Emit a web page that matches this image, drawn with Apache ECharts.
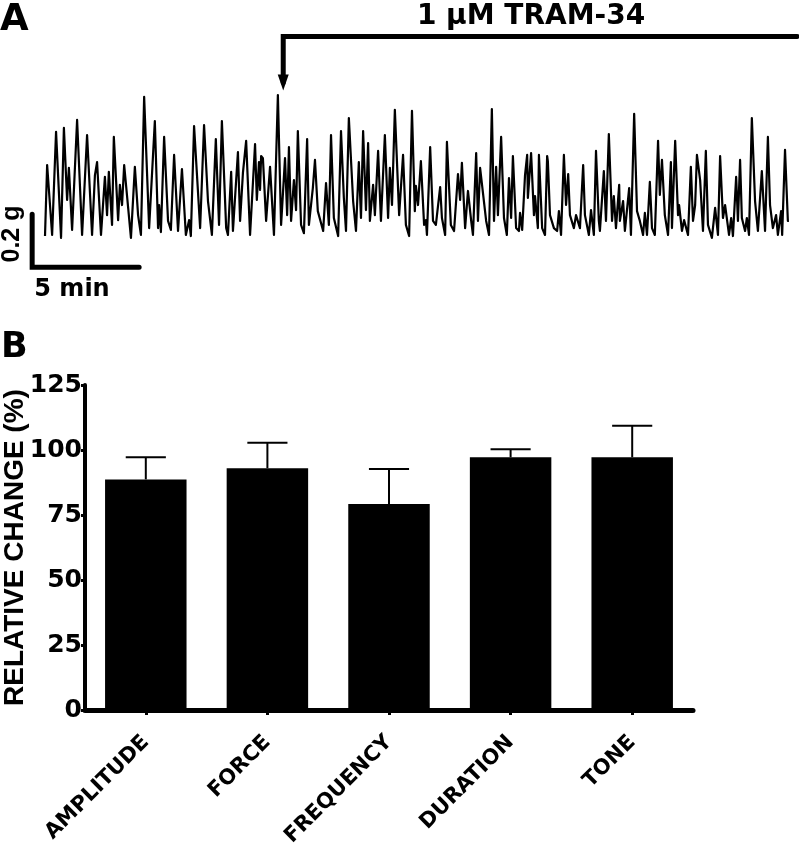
<!DOCTYPE html>
<html>
<head>
<meta charset="utf-8">
<script src="https://cdn.jsdelivr.net/npm/echarts/dist/echarts.min.js"></script>
<style>
  html, body { margin: 0; padding: 0; background: #fff; }
  #chart { width: 799px; height: 844px; }
</style>
</head>
<body>
<div id="chart"></div>
<script>
// ---------- Panel A: contraction trace (time in s, tension in mg) ----------
const traceTime = [0,6,20,31,45,53,62,67,76,90,104,118,132,140,146,157,168,174,179,188,193,205,210,216,222,241,252,261,269,278,292,308,317,320,325,334,345,353,362,373,384,395,404,409,418,435,446,457,468,479,488,496,508,513,522,527,541,547,555,564,575,589,594,600,603,606,611,620,631,642,653,662,673,679,684,690,698,704,709,718,726,735,740,751,757,765,780,788,796,802,810,822,830,838,844,852,864,872,880,886,892,900,906,911,920,925,934,942,953,962,967,973,981,993,1004,1012,1021,
1029,1037,1040,1046,1054,1063,1068,1071,1080,1088,1096,1108,1113,1122,1127,1138,1147,1158,1164,1169,1178,1186,1195,1200,1209,1214,1220,1225,1237,1245,1253,1259,1265,1270,1279,1287,1295,1301,1307,1312,1321,1329,1332,1338,1346,1352,1354,1363,1371,1374,1382,1385,1394,1402,1408,1410,1416,1427,1436,1441,1447,1455,1461,1467,1472,1483,1489,1500,1509,1514,1525,1531,1539,1545,1553,1556,1567,1573,1581,1590,1595,1601,1610,1612,1621,1626,1638,1643,1652,1660,1668,1677,1682,1688,1696,1702,1710,1719,1724,1730,1738,1747,1755,1758,1767,1775,1778,1786,1792,1803,1811,1817,1823,1828,1837,1845,1853,1859,1870,1879,1887,1893,1901,1907,1918,1924,1929,1938,1943,1949,1954,1963,1968,1974,1982,1991,1999,2010,2019,2027,2033,2041,2050,2055,2064,2067,2075,2083,2086];
const traceForce = [15,283,19,408,8,423,151,272,38,453,19,396,19,245,294,19,238,94,257,57,389,75,208,132,283,8,276,94,19,540,45,449,45,132,30,389,72,38,321,34,268,19,75,15,430,45,434,147,19,381,57,449,45,19,257,34,332,72,253,374,19,362,151,294,189,317,309,72,276,19,547,57,309,94,351,72,226,113,411,57,26,381,57,196,302,109,34,215,57,396,83,15,411,159,34,460,147,34,294,83,411,113,366,72,208,94,336,72,396,83,272,132,491,94,321,57,15,
487,109,204,132,298,57,75,19,351,72,57,200,83,19,370,57,34,249,151,291,45,185,72,19,328,72,272,268,72,19,494,72,276,94,389,83,19,234,83,317,45,34,102,38,245,321,159,328,94,166,45,321,45,19,317,298,94,45,34,109,19,321,132,249,94,45,94,45,283,94,19,113,19,336,72,34,260,72,400,72,166,45,208,72,147,34,196,19,476,109,72,19,102,19,219,45,19,374,170,302,94,19,294,45,374,94,132,34,75,19,276,72,132,321,226,34,336,57,8,121,19,317,83,132,19,83,15,238,72,302,83,34,83,19,460,147,34,260,34,389,132,45,94,19,109,19,340,72,72];

const drugLabel = '1 \u00B5M TRAM-34';
const drugTime = 668;        // s, time of addition
const drugEndTime = 2109;    // s
const scaleTime = 300;       // 5 min
const scaleForce = 200;      // 0.2 g in mg

// ---------- Panel B: bar chart ----------
const categories = ['AMPLITUDE', 'FORCE', 'FREQUENCY', 'DURATION', 'TONE'];
const meanValues = [88.7, 93.0, 79.2, 97.2, 97.2];
const semValues  = [8.5, 9.8, 13.5, 3.1, 12.1];
const yTicks = [0, 25, 50, 75, 100, 125];

// layout constants (positions, not data)
const FONT = '"DejaVu Sans", sans-serif';
const FONT2 = '"Liberation Sans", Arial, sans-serif';
const scaleOrigin = [-36, -103];
const drugLineLevel = 768;
const arrowTipLevel = 594;

const tracePairs = traceTime.map((t, i) => [t, traceForce[i]]);
const scaleBar = [
  [scaleOrigin[0], scaleOrigin[1] + scaleForce],
  [scaleOrigin[0], scaleOrigin[1]],
  [scaleOrigin[0] + scaleTime, scaleOrigin[1]]
];
const drugLine = [
  { value: [drugEndTime, drugLineLevel], symbol: 'none' },
  { value: [drugTime, drugLineLevel], symbol: 'none' },
  { value: [drugTime, arrowTipLevel], symbol: 'triangle', symbolSize: [11, 16], symbolRotate: 180 }
];
const errData = categories.map((c, i) => [i, meanValues[i], meanValues[i] + semValues[i]]);

const chart = echarts.init(document.getElementById('chart'), null, { renderer: 'canvas' });
chart.setOption({
  animation: false,
  backgroundColor: '#fff',
  grid: [
    { left: 28.95, width: 769.26, top: 28, height: 243.8, outerBoundsMode: 'none', containLabel: false },
    { left: 85, width: 608, top: 385, height: 325, outerBoundsMode: 'none', containLabel: false }
  ],
  xAxis: [
    { gridIndex: 0, type: 'value', min: -45, max: 2112, show: false },
    {
      gridIndex: 1, type: 'category', data: categories,
      axisLine: { show: true, lineStyle: { color: '#000', width: 5, cap: 'round' } },
      axisTick: { show: true, alignWithLabel: true, length: 5, lineStyle: { color: '#000', width: 3 } },
      axisLabel: { rotate: 45, color: '#000', fontFamily: FONT, fontWeight: 'bold', fontSize: 21, margin: 29, interval: 0 },
      splitLine: { show: false }
    }
  ],
  yAxis: [
    { gridIndex: 0, type: 'value', min: -120, max: 800, show: false },
    {
      gridIndex: 1, type: 'value', min: yTicks[0], max: yTicks[yTicks.length - 1], interval: 25,
      name: 'RELATIVE CHANGE (%)', nameLocation: 'middle', nameGap: 56, nameRotate: 90,
      nameMoveOverlap: false,
      nameTextStyle: { color: '#000', fontFamily: FONT2, fontWeight: 'bold', fontSize: 28 },
      axisLine: { show: true, lineStyle: { color: '#000', width: 4 } },
      axisTick: { show: true, length: 4, lineStyle: { color: '#000', width: 3 } },
      axisLabel: { color: '#000', fontFamily: FONT, fontWeight: 'bold', fontSize: 25, margin: 3 },
      splitLine: { show: false }
    }
  ],
  series: [
    {
      type: 'line', xAxisIndex: 0, yAxisIndex: 0, data: tracePairs,
      symbol: 'none', clip: false,
      lineStyle: { color: '#000', width: 2.2, join: 'round' }
    },
    {
      type: 'line', xAxisIndex: 0, yAxisIndex: 0, data: scaleBar,
      symbol: 'none', clip: false,
      lineStyle: { color: '#000', width: 5, cap: 'round', join: 'miter' }
    },
    {
      type: 'line', xAxisIndex: 0, yAxisIndex: 0, data: drugLine,
      clip: false, itemStyle: { color: '#000' },
      lineStyle: { color: '#000', width: 5, cap: 'round', join: 'miter' }
    },
    {
      type: 'bar', xAxisIndex: 1, yAxisIndex: 1, data: meanValues,
      barCategoryGap: '33%', itemStyle: { color: '#000' }
    },
    {
      type: 'custom', xAxisIndex: 1, yAxisIndex: 1, data: errData, z: 3,
      encode: { x: 0, y: 2 },
      renderItem: function (params, api) {
        const idx = api.value(0);
        const p0 = api.coord([idx, api.value(1)]);
        const p1 = api.coord([idx, api.value(2)]);
        const half = api.size([1, 0])[0] * 0.165;
        const st = { stroke: '#000', lineWidth: 2 };
        return {
          type: 'group',
          children: [
            { type: 'line', shape: { x1: p0[0], y1: p0[1], x2: p1[0], y2: p1[1] }, style: st },
            { type: 'line', shape: { x1: p1[0] - half, y1: p1[1], x2: p1[0] + half, y2: p1[1] }, style: st }
          ]
        };
      }
    }
  ],
  graphic: [
    { type: 'text', x: 0, y: 20, style: { text: 'A', fill: '#000', font: 'bold 37px ' + FONT, verticalAlign: 'middle', align: 'left' } },
    { type: 'text', x: 1, y: 348, style: { text: 'B', fill: '#000', font: 'bold 35px ' + FONT, verticalAlign: 'middle', align: 'left' } },
    { type: 'text', x: 531, y: 17, style: { text: drugLabel, fill: '#000', font: 'bold 28px ' + FONT, verticalAlign: 'middle', align: 'center' } },
    { type: 'text', x: 72, y: 290, style: { text: '5 min', fill: '#000', font: 'bold 24px ' + FONT, verticalAlign: 'middle', align: 'center' } },
    { type: 'text', x: 12, y: 234, rotation: Math.PI / 2, style: { text: '0.2 g', fill: '#000', font: 'bold 25px ' + FONT2, verticalAlign: 'middle', align: 'center' } }
  ]
});
</script>
</body>
</html>
